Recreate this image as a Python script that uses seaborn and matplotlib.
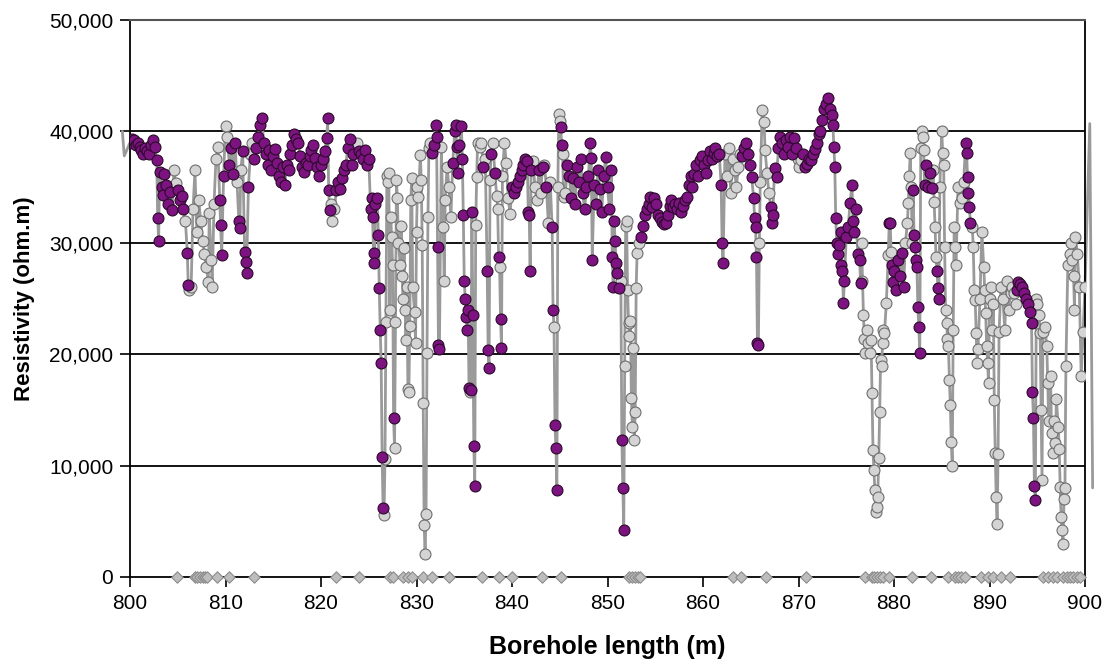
import numpy as np
import pandas as pd
import matplotlib
matplotlib.use("Agg")
import matplotlib.pyplot as plt
import seaborn as sns
from matplotlib.ticker import FuncFormatter, MultipleLocator

# ---------------- data ----------------
# borehole length (m), resistivity (ohm.m), highlight flag (1 = purple marker)
depth_800 = [799.2, 799.4, 800.0, 800.2, 800.4, 800.6, 800.8, 801.0, 801.2, 801.4, 801.6, 801.8, 802.0, 802.2, 802.4, 802.6, 802.8, 802.9, 803.0, 803.1, 803.3, 803.5, 803.6, 803.8, 804.0, 804.2, 804.4, 804.6, 804.8, 805.0, 805.2, 805.4, 805.6, 805.8, 806.0, 806.1, 806.2, 806.4, 806.6, 806.8, 807.0, 807.2, 807.4, 807.6, 807.8, 808.0, 808.2, 808.3, 808.5, 808.6, 808.8, 809.0, 809.2, 809.4, 809.5, 809.6, 809.8]
res_800 = [40000, 37800, 39000, 39300, 39200, 38800, 39000, 38600, 38300, 38000, 38500, 38200, 38000, 38800, 39200, 38600, 37400, 32200, 30200, 36400, 35000, 34300, 36200, 35200, 33500, 34600, 32900, 36500, 35400, 34700, 33800, 34200, 33000, 32000, 29100, 26200, 25800, 26000, 33000, 36500, 31000, 33800, 32000, 30200, 29000, 27800, 26500, 32700, 28500, 26000, 33500, 37500, 38600, 33800, 31600, 28900, 36000]
hl_800 = [0, 0, 1, 1, 1, 1, 1, 1, 1, 1, 1, 1, 1, 1, 1, 1, 1, 1, 1, 1, 1, 1, 1, 1, 1, 1, 1, 0, 0, 1, 1, 1, 1, 0, 1, 1, 0, 0, 0, 0, 0, 0, 0, 0, 0, 0, 0, 0, 0, 0, 0, 0, 0, 1, 1, 1, 1]

depth_810 = [810.0, 810.2, 810.4, 810.6, 810.8, 811.0, 811.2, 811.4, 811.5, 811.6, 811.8, 812.0, 812.1, 812.2, 812.4, 812.6, 812.8, 813.0, 813.2, 813.4, 813.6, 813.8, 814.0, 814.2, 814.4, 814.6, 814.8, 815.0, 815.2, 815.4, 815.6, 815.8, 816.0, 816.2, 816.4, 816.6, 816.8, 817.0, 817.2, 817.4, 817.6, 817.8, 818.0, 818.2, 818.4, 818.6, 818.8, 819.0, 819.2, 819.4, 819.6, 819.8]
res_810 = [40500, 39500, 37000, 38500, 36200, 39000, 35500, 32000, 31300, 36500, 38200, 29200, 28300, 27300, 35000, 38000, 39000, 37500, 38500, 39500, 40600, 41200, 39000, 38000, 37000, 38300, 36500, 37800, 38400, 37200, 36000, 35500, 36800, 35200, 37000, 36500, 38000, 38800, 39800, 39300, 39000, 37800, 36800, 36400, 37200, 37000, 37800, 38300, 38800, 37600, 36800, 36000]
hl_810 = [0, 0, 1, 1, 1, 1, 0, 1, 1, 0, 1, 1, 1, 1, 1, 0, 0, 1, 1, 1, 1, 1, 1, 1, 1, 1, 1, 1, 1, 1, 1, 1, 1, 1, 1, 1, 1, 1, 1, 1, 1, 1, 1, 1, 1, 1, 1, 1, 1, 1, 1, 1]

depth_820 = [820.0, 820.2, 820.4, 820.6, 820.7, 820.8, 820.9, 821.0, 821.2, 821.4, 821.6, 821.8, 822.0, 822.2, 822.4, 822.6, 822.8, 823.0, 823.2, 823.4, 823.6, 823.8, 824.0, 824.2, 824.4, 824.6, 824.8, 825.0, 825.2, 825.3, 825.4, 825.5, 825.6, 825.7, 825.9, 826.0, 826.1, 826.2, 826.3, 826.4, 826.5, 826.6, 826.7, 826.8, 826.9, 827.0, 827.1, 827.2, 827.3, 827.4, 827.5, 827.6, 827.7, 827.8, 827.9, 828.0, 828.1, 828.3, 828.4, 828.5, 828.6, 828.7, 828.8, 828.9, 829.0, 829.1, 829.2, 829.3, 829.4, 829.5, 829.6, 829.8, 829.9]
res_820 = [37000, 37500, 38200, 39400, 41200, 34700, 32900, 33500, 32000, 33000, 34700, 35500, 34800, 35800, 36500, 37000, 38500, 39300, 37000, 38000, 38800, 39000, 38200, 38000, 37500, 38300, 37000, 37500, 33000, 34000, 32300, 29100, 28200, 33500, 34000, 30700, 25900, 22200, 19200, 10800, 6200, 5600, 10600, 22900, 36000, 35500, 36300, 24000, 32300, 30500, 28000, 14300, 11600, 22900, 35600, 34000, 30000, 28000, 31500, 27000, 25000, 29500, 24000, 21300, 26000, 16900, 16600, 22500, 33800, 35800, 26000, 23800, 21000]
hl_820 = [1, 1, 1, 1, 1, 1, 1, 0, 0, 0, 1, 1, 1, 1, 1, 1, 1, 1, 1, 1, 0, 0, 1, 1, 1, 1, 1, 1, 1, 1, 1, 1, 1, 1, 1, 1, 1, 1, 1, 1, 1, 0, 0, 0, 0, 0, 0, 0, 0, 0, 0, 1, 0, 0, 0, 0, 0, 0, 0, 0, 0, 0, 0, 0, 0, 0, 0, 0, 0, 0, 0, 0, 0]

depth_830 = [830.0, 830.1, 830.2, 830.4, 830.5, 830.6, 830.7, 830.8, 830.9, 831.0, 831.1, 831.2, 831.3, 831.4, 831.6, 831.8, 832.0, 832.1, 832.2, 832.3, 832.4, 832.6, 832.8, 832.9, 833.0, 833.2, 833.4, 833.6, 833.8, 834.0, 834.1, 834.2, 834.3, 834.5, 834.7, 834.8, 834.9, 835.0, 835.1, 835.2, 835.3, 835.4, 835.5, 835.6, 835.7, 835.8, 835.9, 836.0, 836.1, 836.2, 836.3, 836.4, 836.6, 836.8, 837.0, 837.2, 837.4, 837.5, 837.6, 837.7, 837.8, 838.0, 838.2, 838.4, 838.5, 838.6, 838.7, 838.8, 838.9, 839.0, 839.2, 839.4, 839.6, 839.8]
res_830 = [31000, 35000, 34100, 37900, 35600, 29800, 15600, 4700, 2100, 5700, 20100, 32300, 38500, 39000, 38100, 38800, 40600, 39500, 29600, 20800, 20500, 38600, 31400, 26600, 33800, 36800, 35000, 32300, 37200, 40000, 40600, 38600, 36300, 38800, 40500, 37500, 32500, 26600, 25000, 23300, 22200, 24000, 17000, 16600, 16800, 32800, 23500, 11800, 8200, 31600, 35900, 39000, 38600, 39000, 36800, 37500, 27500, 20400, 18800, 35600, 38000, 39000, 36300, 34200, 33000, 28700, 27800, 23200, 20600, 36000, 39000, 37200, 34000, 32600]
hl_830 = [0, 0, 0, 0, 0, 0, 0, 0, 0, 0, 0, 0, 0, 0, 1, 1, 1, 1, 1, 1, 1, 0, 0, 0, 0, 0, 0, 0, 1, 1, 1, 1, 1, 1, 1, 1, 1, 1, 1, 1, 1, 1, 1, 0, 1, 1, 1, 1, 1, 0, 0, 0, 0, 0, 1, 0, 1, 1, 1, 0, 1, 0, 1, 0, 0, 1, 0, 1, 1, 0, 0, 0, 0, 0]

depth_840 = [840.0, 840.2, 840.4, 840.6, 840.8, 841.0, 841.2, 841.4, 841.6, 841.7, 841.8, 841.9, 842.0, 842.2, 842.4, 842.6, 842.8, 843.0, 843.2, 843.4, 843.6, 843.8, 844.0, 844.2, 844.3, 844.4, 844.5, 844.6, 844.7, 844.8, 844.9, 845.0, 845.1, 845.2, 845.3, 845.4, 845.6, 845.8, 846.0, 846.2, 846.4, 846.6, 846.8, 847.0, 847.2, 847.4, 847.6, 847.8, 848.0, 848.2, 848.3, 848.4, 848.6, 848.8, 849.0, 849.2, 849.4, 849.6, 849.8]
res_840 = [35000, 34500, 35000, 35500, 36000, 36500, 37000, 37500, 37300, 32800, 32500, 27500, 36500, 37300, 35000, 33800, 36500, 34500, 36800, 37000, 35000, 31800, 35500, 31400, 24000, 22400, 13600, 11600, 7800, 35000, 41600, 40900, 40400, 38800, 38000, 34100, 34500, 37000, 36000, 34000, 35800, 33500, 36800, 35500, 37500, 34500, 33000, 35000, 36000, 39000, 37600, 28500, 35200, 33500, 36500, 34800, 32800, 36000, 37700]
hl_840 = [1, 1, 1, 1, 1, 1, 1, 1, 1, 1, 1, 1, 1, 0, 0, 0, 1, 0, 1, 0, 1, 0, 0, 1, 1, 0, 1, 1, 1, 0, 0, 0, 1, 1, 0, 0, 0, 1, 1, 1, 1, 1, 1, 1, 1, 1, 1, 1, 1, 1, 1, 1, 1, 1, 1, 1, 1, 1, 1]

depth_850 = [850.0, 850.2, 850.4, 850.5, 850.6, 850.7, 850.8, 850.9, 851.0, 851.2, 851.4, 851.5, 851.6, 851.7, 851.8, 851.9, 852.0, 852.1, 852.2, 852.3, 852.4, 852.5, 852.6, 852.7, 852.8, 852.9, 853.0, 853.1, 853.3, 853.5, 853.7, 853.9, 854.1, 854.3, 854.5, 854.7, 854.9, 855.1, 855.3, 855.5, 855.7, 855.9, 856.1, 856.3, 856.5, 856.7, 856.9, 857.1, 857.3, 857.5, 857.7, 857.9, 858.1, 858.3, 858.5, 858.7, 858.9, 859.1, 859.3, 859.5, 859.7, 859.9]
res_850 = [35000, 33000, 36500, 28700, 26000, 32000, 30200, 28200, 27300, 25900, 26600, 12300, 8000, 4200, 18900, 31500, 32000, 25800, 22800, 21600, 23000, 16100, 13500, 20600, 12300, 14800, 25900, 29100, 30000, 30500, 31500, 32500, 33000, 33500, 34100, 33200, 34000, 33500, 32500, 32200, 31900, 31700, 31800, 32500, 33300, 33800, 33200, 33500, 33000, 33600, 32800, 33300, 33800, 34100, 35200, 36000, 35000, 36200, 37000, 36000, 37400, 37800]
hl_850 = [1, 1, 1, 1, 1, 1, 1, 1, 1, 1, 0, 1, 1, 1, 0, 0, 0, 0, 0, 0, 0, 0, 0, 0, 0, 0, 0, 0, 0, 1, 1, 1, 1, 1, 1, 1, 1, 1, 1, 1, 1, 1, 1, 1, 1, 1, 1, 1, 1, 1, 1, 1, 1, 1, 1, 1, 1, 1, 1, 1, 1, 1]

depth_860 = [860.1, 860.3, 860.5, 860.7, 860.9, 861.1, 861.3, 861.5, 861.7, 861.9, 862.0, 862.1, 862.3, 862.5, 862.7, 862.9, 863.1, 863.3, 863.5, 863.7, 863.9, 864.1, 864.3, 864.5, 864.7, 864.9, 865.1, 865.3, 865.4, 865.5, 865.6, 865.7, 865.8, 865.9, 866.0, 866.2, 866.4, 866.5, 866.7, 866.9, 867.1, 867.2, 867.3, 867.5, 867.7, 867.9, 868.1, 868.3, 868.5, 868.7, 868.9, 869.1, 869.3, 869.5, 869.7, 869.9]
res_860 = [37000, 36300, 37400, 38200, 37500, 38100, 38500, 37800, 38000, 35200, 30000, 28200, 38000, 36000, 38500, 34500, 37500, 36500, 35000, 36800, 38000, 37800, 38500, 39000, 38000, 37000, 35900, 34000, 32200, 31400, 28700, 21000, 20800, 30000, 35500, 41900, 40800, 38300, 36300, 34500, 33200, 31800, 32500, 36700, 35900, 38500, 39500, 39000, 38000, 39200, 38600, 39500, 38000, 39400, 38500, 37500]
hl_860 = [1, 1, 1, 1, 1, 1, 1, 1, 1, 1, 1, 1, 0, 0, 0, 0, 0, 0, 0, 0, 0, 1, 1, 1, 1, 1, 1, 1, 1, 1, 1, 1, 1, 0, 0, 0, 0, 0, 0, 0, 1, 1, 1, 1, 1, 1, 1, 1, 1, 1, 1, 1, 1, 1, 1, 0]

depth_870 = [870.1, 870.3, 870.5, 870.7, 870.9, 871.1, 871.3, 871.5, 871.7, 871.9, 872.1, 872.3, 872.5, 872.7, 872.9, 873.1, 873.3, 873.5, 873.6, 873.7, 873.8, 873.9, 874.0, 874.1, 874.2, 874.4, 874.5, 874.6, 874.7, 874.8, 875.0, 875.2, 875.4, 875.6, 875.7, 875.8, 876.0, 876.2, 876.4, 876.5, 876.6, 876.7, 876.8, 876.9, 877.0, 877.2, 877.3, 877.5, 877.6, 877.7, 877.8, 877.9, 878.0, 878.1, 878.2, 878.3, 878.4, 878.5, 878.6, 878.7, 878.8, 878.9, 879.0, 879.2, 879.4, 879.5, 879.6, 879.7, 879.8, 879.9]
res_870 = [36800, 37400, 38000, 36800, 37100, 37500, 37400, 38000, 38400, 39000, 39800, 40000, 41000, 42000, 42500, 43000, 42000, 41500, 40600, 38600, 36800, 32200, 30000, 29000, 29800, 31000, 28000, 27500, 24600, 26600, 30500, 31400, 33600, 35200, 32000, 31000, 33000, 29000, 28500, 26400, 30000, 26600, 23500, 21400, 20100, 22200, 21000, 20100, 21300, 16500, 11400, 9600, 7800, 5800, 6300, 7200, 10700, 14800, 19500, 18900, 21000, 22200, 21900, 24600, 28900, 31800, 31800, 29200, 28000, 26500]
hl_870 = [0, 0, 1, 1, 1, 1, 1, 1, 1, 1, 1, 1, 1, 1, 1, 1, 1, 1, 1, 1, 1, 1, 1, 1, 1, 1, 1, 1, 1, 1, 1, 1, 1, 1, 1, 1, 1, 1, 1, 1, 0, 0, 0, 0, 0, 0, 0, 0, 0, 0, 0, 0, 0, 0, 0, 0, 0, 0, 0, 0, 0, 0, 0, 0, 0, 1, 1, 0, 1, 1]

depth_880 = [880.0, 880.2, 880.4, 880.6, 880.8, 881.0, 881.2, 881.4, 881.5, 881.6, 881.7, 881.8, 881.9, 882.0, 882.1, 882.2, 882.3, 882.4, 882.5, 882.6, 882.7, 882.8, 882.9, 883.0, 883.1, 883.2, 883.4, 883.6, 883.8, 884.0, 884.1, 884.2, 884.3, 884.4, 884.5, 884.6, 884.7, 884.8, 885.0, 885.1, 885.2, 885.3, 885.4, 885.5, 885.6, 885.7, 885.8, 885.9, 886.0, 886.1, 886.2, 886.3, 886.4, 886.5, 886.7, 886.9, 887.1, 887.3, 887.5, 887.6, 887.7, 887.8, 887.9, 888.0, 888.2, 888.3, 888.4, 888.5, 888.6, 888.7, 888.8, 889.0, 889.2, 889.4, 889.5, 889.6, 889.7, 889.8, 889.9]
res_880 = [27500, 25800, 28500, 27000, 29100, 26000, 30000, 31800, 33600, 36000, 38100, 35000, 30000, 34700, 30700, 29600, 28500, 27800, 24200, 22400, 20100, 38500, 40000, 39500, 38300, 35200, 37000, 35000, 36300, 34900, 36500, 33700, 31400, 28700, 27500, 25900, 25000, 35000, 40000, 38100, 37000, 29600, 24000, 22800, 21400, 20700, 17700, 15400, 12100, 10000, 22200, 31400, 29600, 28000, 35000, 33600, 34000, 35500, 39000, 38100, 35900, 34500, 33200, 31800, 31400, 29600, 25800, 24900, 21900, 19200, 20500, 25000, 31000, 27800, 25800, 23700, 20700, 19200, 17400]
hl_880 = [1, 1, 1, 1, 1, 1, 0, 0, 0, 0, 0, 0, 0, 1, 1, 1, 1, 1, 1, 1, 1, 0, 0, 0, 0, 1, 1, 1, 1, 1, 0, 0, 0, 0, 1, 1, 1, 0, 0, 0, 0, 0, 0, 0, 0, 0, 0, 0, 0, 0, 0, 0, 0, 0, 0, 0, 0, 0, 1, 1, 1, 1, 1, 1, 0, 0, 0, 0, 0, 0, 0, 0, 0, 0, 0, 0, 0, 0, 0]

depth_890 = [890.0, 890.2, 890.3, 890.4, 890.5, 890.6, 890.7, 890.8, 890.9, 891.0, 891.2, 891.4, 891.6, 891.8, 892.0, 892.2, 892.4, 892.6, 892.8, 892.9, 893.0, 893.2, 893.4, 893.6, 893.8, 894.0, 894.2, 894.4, 894.5, 894.6, 894.7, 894.8, 894.9, 895.0, 895.2, 895.3, 895.4, 895.5, 895.6, 895.8, 896.0, 896.1, 896.2, 896.4, 896.5, 896.6, 896.8, 896.9, 897.0, 897.2, 897.3, 897.4, 897.5, 897.6, 897.7, 897.8, 897.9, 898.0, 898.2, 898.4, 898.5, 898.6, 898.8, 898.9, 899.0, 899.2, 899.4, 899.6, 899.8, 900.0, 900.5, 900.8]
res_890 = [25000, 26000, 22200, 24500, 15900, 11100, 7200, 4800, 11000, 22000, 26000, 25000, 22200, 26600, 24000, 25500, 26000, 25500, 24500, 25800, 26500, 26300, 26000, 25500, 25000, 24500, 23800, 22800, 16600, 14300, 8200, 6900, 25000, 24500, 23500, 21900, 15000, 8700, 22000, 22400, 20700, 17400, 14000, 18000, 12900, 11100, 14000, 12000, 16000, 13500, 11500, 8100, 5400, 4200, 3000, 7000, 8000, 18900, 28000, 29000, 30000, 28500, 27000, 24000, 30500, 29000, 26000, 18000, 22000, 26000, 40700, 8000]
hl_890 = [0, 0, 0, 0, 0, 0, 0, 0, 0, 0, 0, 0, 0, 0, 0, 0, 0, 0, 0, 1, 1, 1, 1, 1, 1, 1, 1, 1, 1, 1, 1, 1, 0, 0, 0, 0, 0, 0, 0, 0, 0, 0, 0, 0, 0, 0, 0, 0, 0, 0, 0, 0, 0, 0, 0, 0, 0, 0, 0, 0, 0, 0, 0, 0, 0, 0, 0, 0, 0, 0, 0, 0]

# positions of the zero-value markers (diamonds) along the axis
zero_depths = [804.89, 806.81, 807.05, 807.33, 807.61, 807.85, 808.09, 809.08, 810.40, 812.98,
               821.57, 824.01, 827.23, 827.57, 828.62, 829.08, 829.50, 830.65, 831.59, 833.40,
               836.83, 838.67, 840.03, 843.17, 845.13,
               852.28, 852.60, 852.88, 853.16, 853.40, 863.17, 863.95, 866.60, 870.75,
               876.96, 877.66, 877.94, 878.25, 878.53, 878.81, 879.51, 881.92, 883.87,
               885.62, 886.39, 886.67, 886.98, 887.43, 889.11, 889.87, 890.40, 891.20, 892.15,
               895.57, 896.16, 896.62, 897.10, 897.66, 898.08, 898.43, 898.78, 899.19, 899.48]

x_ticks = [800, 810, 820, 830, 840, 850, 860, 870, 880, 890, 900]
y_ticks = [0, 10000, 20000, 30000, 40000, 50000]
x_label = "Borehole length (m)"
y_label = "Resistivity (ohm.m)"

# ---------------- assemble ----------------
depth = depth_800 + depth_810 + depth_820 + depth_830 + depth_840 + depth_850 + depth_860 + depth_870 + depth_880 + depth_890
res = res_800 + res_810 + res_820 + res_830 + res_840 + res_850 + res_860 + res_870 + res_880 + res_890
hl = hl_800 + hl_810 + hl_820 + hl_830 + hl_840 + hl_850 + hl_860 + hl_870 + hl_880 + hl_890
df = pd.DataFrame({"depth": depth, "res": res, "hl": hl})
df_in = df[(df.depth >= 800) & (df.depth <= 900)]
zeros = pd.DataFrame({"depth": zero_depths, "res": [0] * len(zero_depths)})

# ---------------- style ----------------
sns.set_style("ticks")
plt.rcParams["font.family"] = ["Liberation Sans", "DejaVu Sans"]
plt.rcParams["text.color"] = "black"
plt.rcParams["axes.labelcolor"] = "black"
plt.rcParams["xtick.color"] = "black"
plt.rcParams["ytick.color"] = "black"

fig = plt.figure(figsize=(11.06, 6.66), dpi=100)
ax = fig.add_axes([130 / 1106, 1 - 577 / 666, (1085 - 130) / 1106, (577 - 20) / 666])

for yv in [10000, 20000, 30000, 40000]:
    ax.axhline(yv, color="black", lw=1.3, zorder=0.5)

sns.lineplot(data=df, x="depth", y="res", sort=False, estimator=None,
             color="#9a9a9a", lw=2.0, ax=ax, zorder=2)
for ln in ax.lines[-1:]:
    ln.set_clip_on(False)

sns.scatterplot(data=df_in[df_in.hl == 0], x="depth", y="res", s=62, color="#d4d4d4",
                edgecolor="#6f6f6f", linewidth=0.8, ax=ax, zorder=3, legend=False)
sns.scatterplot(data=df_in[df_in.hl == 1], x="depth", y="res", s=62, color="#7d1380",
                edgecolor="#2a0a2a", linewidth=0.8, ax=ax, zorder=4, legend=False)
sns.scatterplot(data=zeros, x="depth", y="res", marker="D", s=34, color="#bdbdbd",
                edgecolor="#8c8c8c", linewidth=0.8, ax=ax, zorder=5, legend=False, clip_on=False)

ax.set_xlim(800, 900)
ax.set_ylim(0, 50000)
ax.set_xticks(x_ticks)
ax.set_yticks(y_ticks)
ax.yaxis.set_major_formatter(FuncFormatter(lambda v, p: f"{int(v):,}"))
ax.tick_params(axis="both", direction="out", length=7, width=1.2, color="black",
               labelcolor="black", labelsize=15, pad=5)
ax.set_xlabel(x_label, fontsize=18, fontweight="bold", labelpad=16, color="black")
ax.set_ylabel(y_label, fontsize=16, fontweight="bold", labelpad=10, color="black")

for side in ["left", "bottom", "right"]:
    ax.spines[side].set_color("black")
    ax.spines[side].set_linewidth(1.3)
    ax.spines[side].set_visible(True)
ax.spines["top"].set_visible(True)
ax.spines["top"].set_color("#555555")
ax.spines["top"].set_linewidth(1.5)

fig.savefig("out.png", dpi=100)
